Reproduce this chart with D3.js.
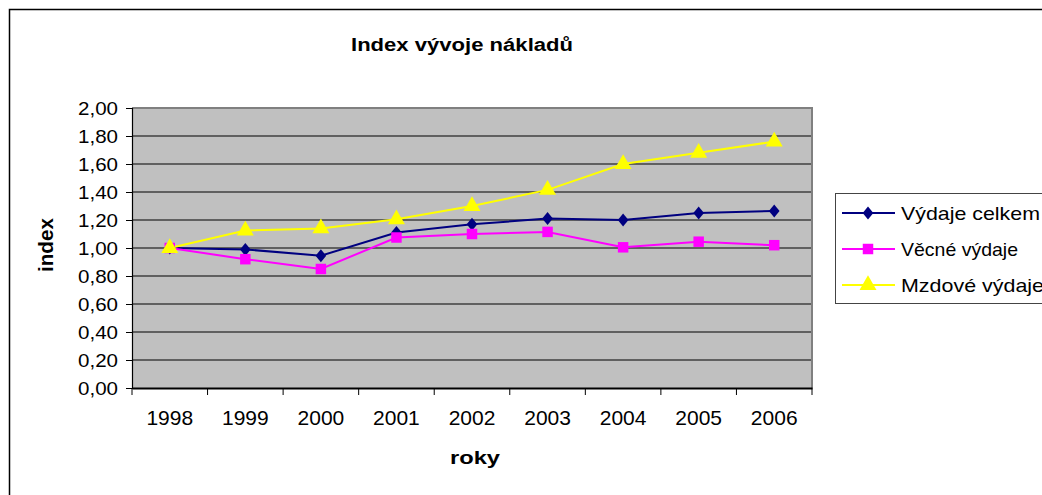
<!DOCTYPE html>
<html><head><meta charset="utf-8">
<script src="https://cdn.jsdelivr.net/npm/d3@7"></script>
<style>
body{margin:0;background:#fff;}
text{font-family:"Liberation Sans",Arial,sans-serif;}
</style></head>
<body><svg id="c" width="1042" height="495"></svg>
<script>
const years = ["1998","1999","2000","2001","2002","2003","2004","2005","2006"];
const vydajeCelkem = [1.00,0.99,0.945,1.11,1.17,1.21,1.20,1.25,1.265];
const vecneVydaje  = [1.00,0.92,0.85,1.075,1.10,1.115,1.005,1.045,1.02];
const mzdoveVydaje = [1.00,1.125,1.14,1.205,1.30,1.415,1.60,1.68,1.76];
const yTicks = [0,0.2,0.4,0.6,0.8,1.0,1.2,1.4,1.6,1.8,2.0];
const seriesNames = ["Výdaje celkem","Věcné výdaje","Mzdové výdaje"];

const svg = d3.select("#c");
const L=132,R=812,T=108,B=388;

// outer chart border
svg.append("rect").attr("x",9.5).attr("y",9.5).attr("width",1100).attr("height",600)
  .attr("fill","none").attr("stroke","#000").attr("stroke-width",1.5);

const x = d3.scaleBand().domain(years).range([L,R]).padding(0);
const y = d3.scaleLinear().domain([0,2]).range([B,T]);

// plot background
svg.append("rect").attr("x",L).attr("y",T).attr("width",R-L).attr("height",B-T).attr("fill","#C0C0C0");
// gridlines
svg.append("g").selectAll("line").data(yTicks.filter(d=>d>0)).join("line")
  .attr("x1",L).attr("x2",R).attr("y1",d=>y(d)).attr("y2",d=>y(d))
  .attr("stroke","#000").attr("stroke-width",1);
// plot border top/right
svg.append("path").attr("d",`M${L},${T}H${R}V${B}`).attr("fill","none").attr("stroke","#808080").attr("stroke-width",2);

// y axis
const fmt = d=>d.toFixed(2).replace(".",",");
const ya = svg.append("g").attr("transform",`translate(${L},0)`)
  .call(d3.axisLeft(y).tickValues(yTicks).tickFormat(fmt).tickSize(6).tickPadding(8));
ya.select(".domain").attr("stroke","#000").attr("stroke-width",1.2);
ya.selectAll(".tick line").attr("stroke","#000");
ya.selectAll("text").attr("font-size",19).attr("fill","#000").attr("font-family","Liberation Sans, Arial")
  .attr("textLength",40).attr("lengthAdjust","spacingAndGlyphs");

// x axis
const xa = svg.append("g").attr("transform",`translate(0,${B})`)
  .call(d3.axisBottom(x).tickSize(0).tickPadding(22));
xa.select(".domain").attr("stroke","#000").attr("stroke-width",2);
xa.selectAll("text").attr("font-size",21).attr("fill","#000").attr("font-family","Liberation Sans, Arial");
// boundary tick marks
svg.append("g").selectAll("line").data(years.concat(["end"])).join("line")
  .attr("x1",(d,i)=>L+i*x.bandwidth()).attr("x2",(d,i)=>L+i*x.bandwidth())
  .attr("y1",B).attr("y2",B+7).attr("stroke","#000").attr("stroke-width",1);

// wider Excel-like diamond
const excelDiamond = {draw(ctx,size){const h=Math.sqrt(size)*0.62,w=h*0.82;
  ctx.moveTo(0,-h);ctx.lineTo(w,0);ctx.lineTo(0,h);ctx.lineTo(-w,0);ctx.closePath();}};

// series
const series = [
  {name:seriesNames[0], values:vydajeCelkem, color:"#000080", shape:excelDiamond, size:110, tl:139},
  {name:seriesNames[1], values:vecneVydaje, color:"#FF00FF", shape:d3.symbolSquare, size:110, tl:117},
  {name:seriesNames[2], values:mzdoveVydaje, color:"#FFFF00", shape:d3.symbolTriangle, size:125, tl:143}
];
const cx = d=>x(d)+x.bandwidth()/2;
const line = d3.line().x((d,i)=>cx(years[i])).y(d=>y(d));
series.forEach(s=>{
  svg.append("path").datum(s.values).attr("d",line).attr("fill","none")
    .attr("stroke",s.color).attr("stroke-width",2);
});
series.forEach(s=>{
  svg.append("g").selectAll("path").data(s.values).join("path")
    .attr("d",d3.symbol().type(s.shape).size(s.size))
    .attr("transform",(d,i)=>`translate(${cx(years[i])},${y(d)})`)
    .attr("fill",s.color);
});

// title and axis titles
svg.append("text").attr("x",462).attr("y",51).attr("text-anchor","middle")
  .attr("font-size",18).attr("font-weight","bold")
  .attr("textLength",222).attr("lengthAdjust","spacingAndGlyphs").text("Index vývoje nákladů");
svg.append("text").attr("x",475).attr("y",464).attr("text-anchor","middle")
  .attr("font-size",18).attr("font-weight","bold")
  .attr("textLength",50).attr("lengthAdjust","spacingAndGlyphs").text("roky");
svg.append("text").attr("transform","translate(53,245) rotate(-90)").attr("text-anchor","middle")
  .attr("font-size",21).attr("font-weight","bold")
  .attr("textLength",54).attr("lengthAdjust","spacingAndGlyphs").text("index");

// legend
const lg = svg.append("g");
lg.append("rect").attr("x",835.5).attr("y",193.5).attr("width",300).attr("height",110)
  .attr("fill","#fff").attr("stroke","#444").attr("stroke-width",1);
const rowY = [213,249,285];
series.forEach((s,i)=>{
  lg.append("line").attr("x1",842).attr("x2",895).attr("y1",rowY[i]).attr("y2",rowY[i])
    .attr("stroke",s.color).attr("stroke-width",2);
  lg.append("path").attr("d",d3.symbol().type(s.shape).size(s.size))
    .attr("transform",`translate(868,${rowY[i]})`).attr("fill",s.color);
  lg.append("text").attr("x",901).attr("y",rowY[i]+7).attr("font-size",19)
    .attr("textLength",s.tl).attr("lengthAdjust","spacingAndGlyphs").text(s.name);
});
</script></body></html>
